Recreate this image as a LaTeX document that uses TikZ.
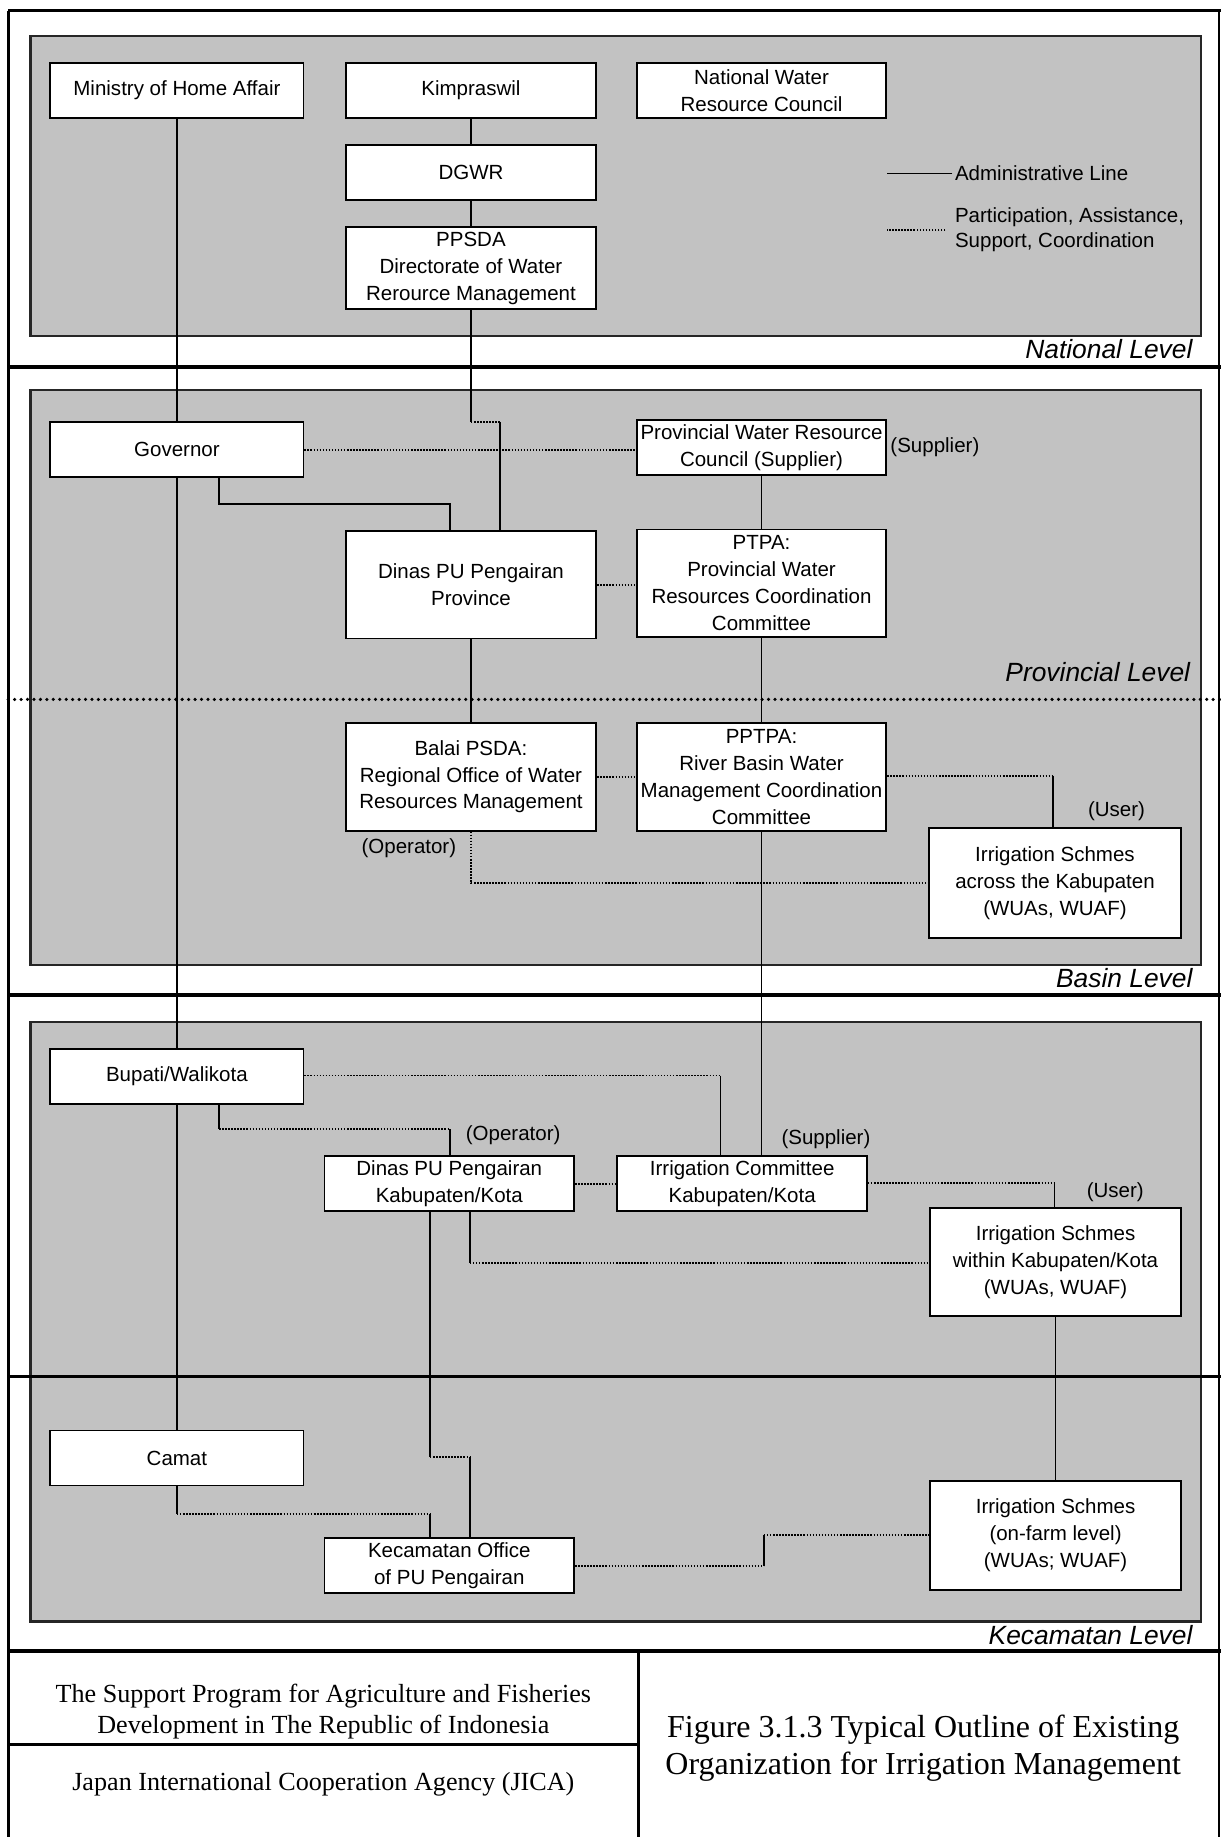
\documentclass[tikz,border=0pt]{standalone}
\usepackage{fontspec}
\setmainfont{Liberation Serif}
\setsansfont{Liberation Sans}
\newcommand\bxfont{\sffamily\fontsize{17.5}{23}\selectfont}
\newcommand\lvfont{\sffamily\itshape\fontsize{22.5}{26}\selectfont}
\begin{document}
\begin{tikzpicture}[x=1pt,y=-1pt,
  box/.style={draw, fill=white, line width=1.6pt, align=center, inner sep=0pt, font=\bxfont, minimum width=214pt},
  hs/.style={minimum height=47pt},
  hl/.style={minimum height=92pt},
  shadebox/.style={fill=black!24, draw=black!85, line width=1.8pt},
  sepline/.style={line width=3.2pt},
  adm/.style={line width=1.4pt},
  part/.style={line width=1.6pt, dash pattern=on 1.3pt off 1.3pt},
  lab/.style={font=\bxfont, inner sep=0pt},
  lvl/.style={font=\lvfont, inner sep=0pt, anchor=base east},
]
\useasboundingbox (0,0) rectangle (1042,1568);

% shaded level areas
\draw[shadebox] (26,31) rectangle (1025,287);
\draw[shadebox] (26,333) rectangle (1025,824);
\draw[shadebox] (26,872) rectangle (1025,1175);
\draw[shadebox] (26,1175) rectangle (1025,1384);

% frame and separators
\draw[sepline] (7,9) -- (1042,9);
\draw[line width=2.6pt] (7,9) -- (7,1568);
\draw[line width=1.5pt] (1040.5,9) -- (1040.5,1568);
\draw[sepline] (7,313) -- (1042,313);
\draw[sepline] (7,849) -- (1042,849);
\draw[sepline] (7,1175) -- (1042,1175);
\draw[sepline] (7,1409) -- (1042,1409);
\draw[line width=2pt] (545,1409) -- (545,1568);
\draw[line width=2pt] (7,1489) -- (545,1489);
\draw[line width=3pt, line cap=round, dash pattern=on 0pt off 5.5pt] (7,597) -- (1042,597);

% nodes
\node[box, hs, minimum width=216pt] (min) at (151,77) {Ministry of Home Affair};
\node[box, hs] (kim) at (402,77) {Kimpraswil};
\node[box, hs, minimum width=213pt] (nwrc) at (650,77) {National Water\\Resource Council};
\node[box, hs] (dgwr) at (402,147.5) {DGWR};
\node[box, minimum height=70pt] (ppsda) at (402,229) {PPSDA\\Directorate of Water\\Rerource Management};

\node[box, hs, minimum width=216pt] (gov) at (151,384) {Governor};
\node[box, hs, minimum width=213pt] (pwrc) at (650,382) {Provincial Water Resource\\Council (Supplier)};
\node[box, hl] (dinasP) at (402,499) {Dinas PU Pengairan\\Province};
\node[box, hl, minimum width=213pt] (ptpa) at (650,498) {PTPA:\\Provincial Water\\Resources Coordination\\Committee};
\node[box, hl] (balai) at (402,663) {Balai PSDA:\\Regional Office of Water\\Resources Management};
\node[box, hl, minimum width=213pt] (pptpa) at (650,663) {PPTPA:\\River Basin Water\\Management Coordination\\Committee};
\node[box, minimum height=94pt, minimum width=215pt] (irrA) at (900.5,754) {Irrigation Schmes\\across the Kabupaten\\(WUAs, WUAF)};

\node[box, hs, minimum width=216pt] (bup) at (151,919) {Bupati/Walikota};
\node[box, hs, minimum width=213pt] (dinasK) at (383.5,1010.5) {Dinas PU Pengairan\\Kabupaten/Kota};
\node[box, hs, minimum width=213pt] (ic) at (633.5,1010) {Irrigation Committee\\Kabupaten/Kota};
\node[box, hl] (irrW) at (901,1077) {Irrigation Schmes\\within Kabupaten/Kota\\(WUAs, WUAF)};

\node[box, hs, minimum width=216pt] (camat) at (151,1244.5) {Camat};
\node[box, hs, minimum width=213pt] (kec) at (383.5,1336.5) {Kecamatan Office\\of PU Pengairan};
\node[box, minimum height=93pt] (irrF) at (901,1310.5) {Irrigation Schmes\\(on-farm level)\\(WUAs; WUAF)};

% small labels
\node[lab] (sup1) at (798,382) {(Supplier)};
\node[lab] (user1) at (953,692) {(User)};
\node[lab] (op1) at (349,724) {(Operator)};
\node[lab] (op2) at (438,969) {(Operator)};
\node[lab] (sup2) at (705,972) {(Supplier)};
\node[lab] (user2) at (952,1018) {(User)};

% legend
\node[lab, anchor=west] (lgA) at (815,148) {Administrative Line};
\node[lab, anchor=west, align=left, font=\sffamily\fontsize{17.5}{21}\selectfont] (lgB) at (815,196) {Participation, Assistance,\\Support, Coordination};
\draw[adm] ([xshift=-2pt]lgA.west) -- ++(-56,0);
\draw[part] ([xshift=-8pt]lgB.west) -- ++(-50,0);

% level labels
\node[lvl] (lvN) at (1018,306) {National Level};
\node[lvl] (lvP) at (1016,582) {Provincial Level};
\node[lvl] (lvB) at (1018,843) {Basin Level};
\node[lvl] (lvK) at (1018,1404) {Kecamatan Level};

% bottom panel
\node[font=\fontsize{22.3}{26}\selectfont, align=center] (prog) at (276,1461) {The Support Program for Agriculture and Fisheries\\Development in The Republic of Indonesia};
\node[font=\fontsize{22.3}{26}\selectfont] (jica) at (276,1523) {Japan International Cooperation Agency (JICA)};
\node[font=\fontsize{27.3}{32}\selectfont, align=center] (fig) at (788,1492) {Figure 3.1.3 Typical Outline of Existing\\Organization for Irrigation Management};

% connectors
\draw[adm] (min.south) -- (gov.north);
\draw[adm] (gov.south) -- (bup.north);
\draw[adm] (bup.south) -- (camat.north);
\draw[adm] (kim.south) -- (dgwr.north);
\draw[adm] (dgwr.south) -- (ppsda.north);

\coordinate (fa) at (402,360);
\coordinate (fb) at (427,360);
\draw[adm] (ppsda.south) -- (fa);
\draw[part] (fa) -- (fb);
\draw[adm] (fb) -- (fb |- dinasP.north);

\draw[part] (gov.east) -- (gov.east -| pwrc.west);

\coordinate (ha) at (187,430);
\coordinate (hb) at (384,430);
\draw[adm] (ha |- gov.south) -- (ha) -- (hb) -- (hb |- dinasP.north);

\draw[adm] (pwrc.south) -- (ptpa.north);
\draw[part] (dinasP.east) -- (dinasP.east -| ptpa.west);
\draw[adm] (dinasP.south) -- (balai.north);
\draw[adm] (ptpa.south) -- (pptpa.north);
\draw[part] (balai.east) -- (pptpa.west);

\coordinate (na) at (899,662);
\draw[part] (na -| pptpa.east) -- (na);
\draw[adm] (na) -- (na |- irrA.north);

\draw[part] (balai.south) |- (irrA.west);
\draw[adm] (pptpa.south) -- (pptpa.south |- ic.north);

\coordinate (qa) at (615,918);
\draw[part] (qa -| bup.east) -- (qa);
\draw[adm] (qa) -- (qa |- ic.north);

\coordinate (ra) at (187,964);
\coordinate (rb) at (384,964);
\draw[adm] (ra |- bup.south) -- (ra);
\draw[part] (ra) -- (rb);
\draw[adm] (rb) -- (rb |- dinasK.north);

\draw[part] (dinasK.east) -- (dinasK.east -| ic.west);

\coordinate (ta) at (900,1010);
\draw[part] (ta -| ic.east) -- (ta);
\draw[adm] (ta) -- (ta |- irrW.north);

\coordinate (ua) at (401,1078);
\draw[adm] (ua |- dinasK.south) -- (ua);
\draw[part] (ua) -- (ua -| irrW.west);

\coordinate (va) at (367,1244);
\coordinate (vb) at (401,1244);
\draw[adm] (va |- dinasK.south) -- (va);
\draw[part] (va) -- (vb);
\draw[adm] (vb) -- (vb |- kec.north);

\coordinate (wa) at (151,1292);
\coordinate (wb) at (367,1292);
\draw[adm] (camat.south) -- (wa);
\draw[part] (wa) -- (wb);
\draw[adm] (wb) -- (wb |- kec.north);

\coordinate (ka) at (652,1336.5);
\coordinate (kb) at (652,1310.5);
\draw[part] (kec.east) -- (ka);
\draw[adm] (ka) -- (kb);
\draw[part] (kb) -- (irrF.west);

\draw[adm] (irrW.south) -- (irrF.north);
\end{tikzpicture}
\end{document}
